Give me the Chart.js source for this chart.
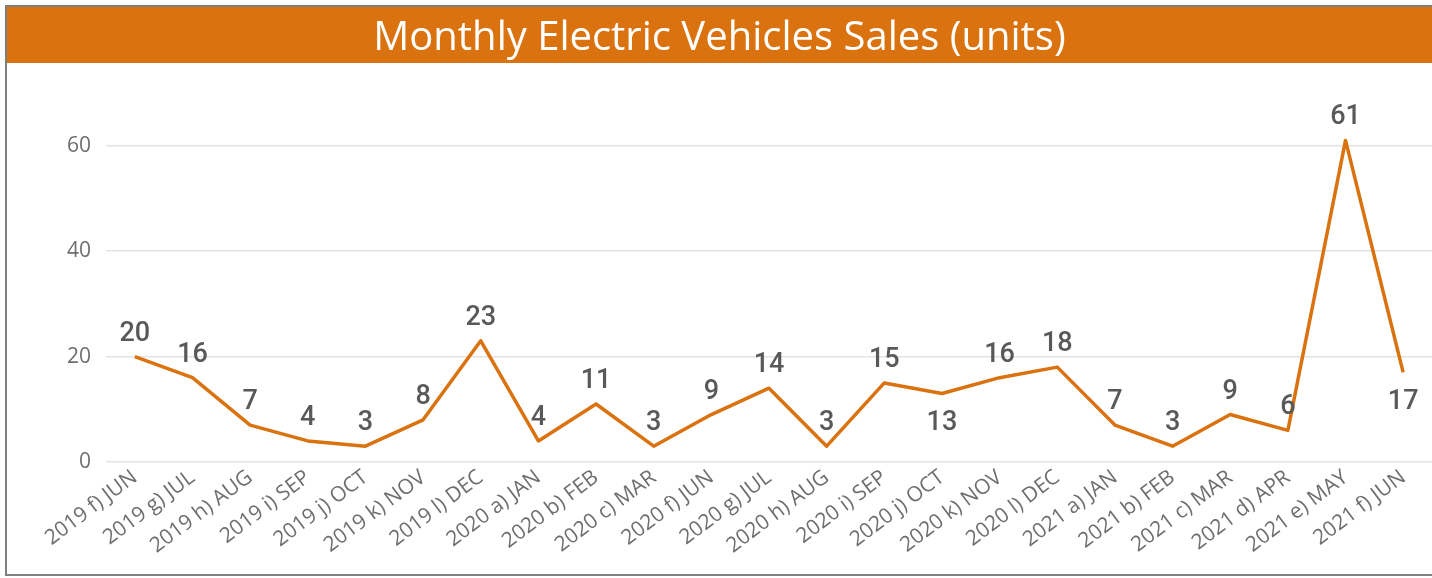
<!DOCTYPE html>
<html>
<head>
<meta charset="utf-8">
<script src="https://cdn.jsdelivr.net/npm/chart.js@4.4.1/dist/chart.umd.min.js"></script>
<style>
  body { margin: 0; background: #fff; }
  #wrap { width: 1432px; height: 578px; position: relative; }
</style>
</head>
<body>
<div id="wrap"><canvas id="graficoVendas"></canvas></div>
<script>
// dados
var meses = ['2019 f) JUN', '2019 g) JUL', '2019 h) AUG', '2019 i) SEP', '2019 j) OCT', '2019 k) NOV', '2019 l) DEC',
    '2020 a) JAN', '2020 b) FEB', '2020 c) MAR', '2020 f) JUN', '2020 g) JUL', '2020 h) AUG', '2020 i) SEP',
    '2020 j) OCT', '2020 k) NOV', '2020 l) DEC', '2021 a) JAN', '2021 b) FEB', '2021 c) MAR', '2021 d) APR',
    '2021 e) MAY', '2021 f) JUN'];
var vendas = [20, 16, 7, 4, 3, 8, 23, 4, 11, 3, 9, 14, 3, 15, 13, 16, 18, 7, 3, 9, 6, 61, 17];
var ticksY = [0, 20, 40, 60];

var laranja = '#D9720F';
var cinza = '#595959';
var cinzaEixo = '#6e6e6e';

// moldura e faixa laranja do titulo
var fundo = {
    id: 'fundo',
    beforeDraw: function (chart) {
        var c = chart.ctx;
        c.save();
        c.fillStyle = laranja;
        c.fillRect(7, 7, 1425, 56);
        c.strokeStyle = '#7f7f7f';
        c.lineWidth = 2;
        c.strokeRect(6, 6, 1440, 569);
        c.restore();
    }
};

// rotulos de valor (13 e 17 ficam embaixo)
var abaixo = [14, 22];
var rotulos = {
    id: 'rotulos',
    afterDatasetsDraw: function (chart) {
        var c = chart.ctx;
        var meta = chart.getDatasetMeta(0);
        c.save();
        c.font = '500 27px Roboto, "DejaVu Sans Condensed"';
        c.fillStyle = cinza;
        c.textAlign = 'center';
        meta.data.forEach(function (p, i) {
            if (abaixo.indexOf(i) >= 0) {
                c.textBaseline = 'top';
                c.fillText(vendas[i], p.x, p.y + 16);
            } else {
                c.textBaseline = 'alphabetic';
                c.fillText(vendas[i], p.x, p.y - 16);
            }
        });
        c.restore();
    }
};

var ctx = document.getElementById('graficoVendas');
var myChart = new Chart(ctx, {
    type: 'line',
    data: {
        labels: meses,
        datasets: [{
            data: vendas,
            borderColor: laranja,
            borderWidth: 3.5,
            borderJoinStyle: 'round',
            tension: 0,
            pointRadius: 0,
            fill: false
        }]
    },
    options: {
        responsive: true,
        maintainAspectRatio: false,
        animation: false,
        layout: {
            padding: { left: 7, right: 0, top: 7, bottom: 0 }
        },
        plugins: {
            legend: { display: false },
            tooltip: { enabled: false },
            title: {
                display: true,
                text: 'Monthly Electric Vehicles Sales (units)',
                color: '#ffffff',
                font: { family: '"Open Sans"', size: 40, weight: 'normal' },
                padding: { top: 8, bottom: 30 }
            }
        },
        scales: {
            x: {
                offset: true,
                grid: { display: false, drawTicks: false },
                border: { display: false },
                afterFit: function (scale) { scale.height = 116; },
                ticks: {
                    color: cinzaEixo,
                    font: { family: '"Open Sans"', size: 21 },
                    minRotation: 37,
                    maxRotation: 37,
                    autoSkip: false,
                    padding: 3
                }
            },
            y: {
                min: 0,
                max: 70,
                afterBuildTicks: function (scale) {
                    scale.ticks = ticksY.map(function (v) { return { value: v }; });
                },
                afterFit: function (scale) { scale.width = 99; },
                grid: { color: '#e3e3e3', lineWidth: 1.5, drawTicks: false },
                border: { display: false },
                ticks: {
                    color: cinzaEixo,
                    font: { family: '"Open Sans"', size: 21 },
                    padding: 15
                }
            }
        }
    },
    plugins: [fundo, rotulos]
});
</script>
</body>
</html>
